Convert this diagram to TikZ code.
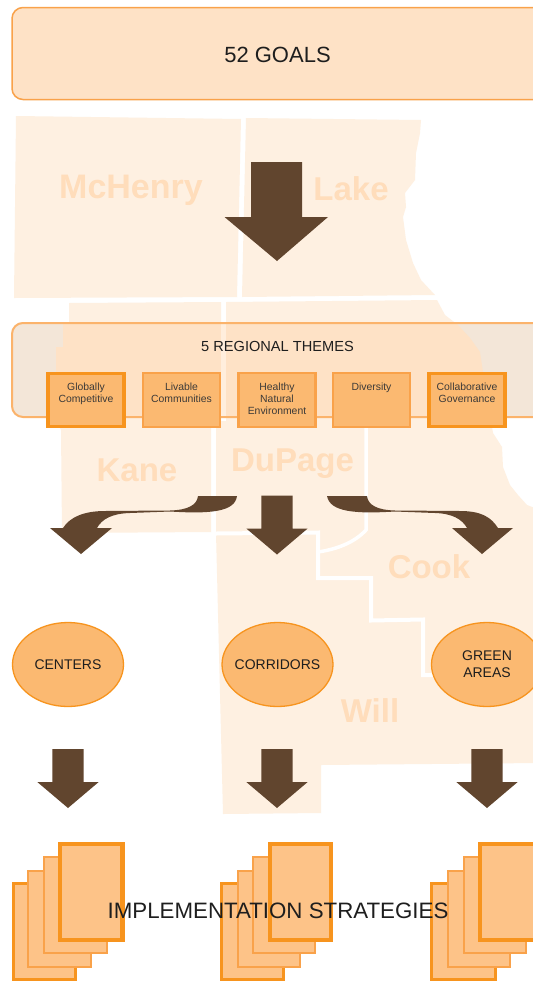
\documentclass[tikz,border=0pt]{standalone}
\usepackage{fontspec}
\setmainfont{Liberation Sans}
\usetikzlibrary{shapes.geometric}
\definecolor{landc}{HTML}{FEF0E1}
\definecolor{landtint}{HTML}{FEE2C6}
\definecolor{gaptint}{HTML}{FFEEDD}
\definecolor{bandc}{HTML}{F3E6D8}
\definecolor{peach}{HTML}{FEE2C6}
\definecolor{orangeL}{HTML}{F9A24A}
\definecolor{orangeD}{HTML}{F7941E}
\definecolor{bandedge}{HTML}{FBB36B}
\definecolor{squarec}{HTML}{FBB971}
\definecolor{sheetc}{HTML}{FDC388}
\definecolor{brownc}{HTML}{61452E}
\definecolor{countyc}{HTML}{FFDDBB}
\definecolor{inkc}{HTML}{1E1E1E}
\definecolor{inksm}{HTML}{3C3A38}
\newcommand{\fs}[1]{\fontsize{#1}{#1}\selectfont}
\newcommand{\kanepoly}{(69,303) -- (221,302) -- (221,421) -- (211,421) -- (211,532) -- (62,533) -- (61,430) -- (56,420) -- (56,347) -- (63,347) -- (63,323) -- (69,323) -- cycle}
\newcommand{\southpoly}{(226,302) -- (437,300) -- (445,315) -- (458,325) -- (470,338) -- (480,352) -- (483,372) -- (493,433) -- (502,447) -- (503,467) -- (510,485) -- (518,495) -- (527,505) -- (540,510) -- (540,763) -- (321,765) -- (321,813) -- (223,814) -- (216,533) -- (216,421) -- (226,421) -- cycle}
\newcommand{\downblock}[3]{%
  \fill[arrowfill] (#1-15.7,#2) -- (#1+15.7,#2) -- (#1+15.7,#2+33) -- (#1+30.7,#2+33) -- (#1,#2+59) -- (#1-30.7,#2+33) -- (#1-15.7,#2+33) -- cycle;}
\tikzset{
  arrowfill/.style={fill=brownc},
  landfill/.style={fill=landc},
  county/.style={font=\bfseries\fs{33}, text=countyc, anchor=base, inner sep=0pt},
  topband/.style={draw=orangeL, line width=1.5pt, fill=peach, rounded corners=11pt, minimum width=560pt, minimum height=92pt, inner sep=0pt},
  themeband/.style={draw=bandedge, line width=2pt, rounded corners=11pt, minimum width=560pt, minimum height=94pt, inner sep=0pt},
  themesq/.style={fill=squarec, draw=orangeL, line width=2.5pt, minimum width=77pt, minimum height=54pt, inner sep=0pt},
  themesqb/.style={themesq, draw=orangeD, line width=3.5pt, minimum width=76pt, minimum height=53pt},
  themetxt/.style={font=\fontsize{10.4}{12.3}\selectfont, text=inksm, align=center, anchor=north, inner sep=0pt},
  ell/.style={ellipse, fill=squarec, draw=orangeD, line width=1.3pt, minimum width=111pt, minimum height=84pt, inner sep=0pt},
  elltxt/.style={font=\fontsize{14}{17}\selectfont, text=inkc, align=center, inner sep=0pt},
  sheetback/.style={fill=sheetc, draw=orangeD, line width=3pt},
  sheetmid/.style={fill=sheetc, draw=orangeL, line width=2pt},
  sheetfront/.style={fill=sheetc, draw=orangeD, line width=4.5pt},
}
\begin{document}
\begin{tikzpicture}[x=1pt,y=-1pt]
\useasboundingbox (0,0) rectangle (533,983);
\fill[white] (0,0) rectangle (533,983);
\clip (0,0) rectangle (533,983);

% map
\fill[landfill] (16,116) -- (241,119) -- (237,297) -- (14,298) -- cycle;
\fill[landfill] (246,118) -- (421,120) -- (420,133) -- (416,153) -- (415,180) -- (405,193) -- (406,207) -- (403,217) -- (406,240) -- (413,263) -- (421,280) -- (435,295) -- (242,297) -- cycle;
\fill[landfill] \kanepoly;
\fill[landfill] \southpoly;
\draw[white, line width=4pt] (216,533.5) -- (318,532.5) -- (318,578) -- (371,578) -- (371,620.5) -- (423,619.5) -- (423,675) -- (436,675);
\draw[white, line width=3.5pt] (366,425) -- (366,530) .. controls (355,542) and (338,549) .. (318,552);

% band of the five themes, map seen through it
\begin{scope}
  \clip[rounded corners=11pt] (12,322) rectangle (560,417);
  \fill[bandc] (0,310) rectangle (540,430);
  \fill[landtint] \kanepoly;
  \fill[landtint] \southpoly;
  \draw[gaptint, line width=5pt] (223.5,300) -- (223.5,421);
\end{scope}
\node[themeband] (band) at (292,370) {};
\node[font=\fs{14.6}, text=inkc, inner sep=0pt] (bandtitle) at (277.5,346) {5 REGIONAL THEMES};

% counties
\node[county, font=\bfseries\fs{34}] (mchenry) at (131,198) {McHenry};
\node[county] (lake) at (351,200.5) {Lake};
\node[county] (kane) at (137,481) {Kane};
\node[county] (dupage) at (292.5,471.5) {DuPage};
\node[county] (cook) at (429,578) {Cook};
\node[county] (will) at (370,722) {Will};

% top box
\node[topband] (goals) at (292,53.5) {};
\node[font=\fs{22}, text=inkc, inner sep=0pt] (goalstxt) at (277.5,55) {52 GOALS};

% top arrow
\fill[arrowfill] (251,162) -- (302,162) -- (302,217) -- (328,217) -- (277,261) -- (224.5,217) -- (251,217) -- cycle;

% theme squares
\node[themesqb] (t1) at (86,400) {};
\node[themesq]  (t2) at (181.5,400) {};
\node[themesq]  (t3) at (277,400) {};
\node[themesq]  (t4) at (371.5,400) {};
\node[themesqb] (t5) at (467,400) {};
\begin{scope}[every node/.append style={themetxt}]
\node (t1txt) at (86,382.5) {Globally\\Competitive};
\node (t2txt) at (181.5,382.5) {Livable\\Communities};
\node (t3txt) at (277,382.5) {Healthy\\Natural\\Environment};
\node (t4txt) at (371.5,382.5) {Diversity};
\node (t5txt) at (467,382.5) {Collaborative\\Governance};
\end{scope}

% arrows from the themes
\downblock{277}{495.5}{}
\fill[arrowfill] (237,496) -- (198,496) .. controls (197,505) and (188,510) .. (170,510.5) -- (105,511) .. controls (84,511) and (70,517) .. (63,528) -- (50,528) -- (81,554) -- (112,528) -- (97,528) .. controls (102,519) and (112,513.5) .. (130,513) -- (170,511.5) .. controls (210,514) and (235,512) .. (237,496) -- cycle;
\fill[arrowfill] (327,496) -- (367,496) .. controls (368,505) and (377,510) .. (395,510.5) -- (460,511) .. controls (481,511) and (491,517) .. (498,528) -- (513,528) -- (482,554) -- (452,528) -- (467,528) .. controls (462,519) and (452,513.5) .. (435,513) -- (395,511.5) .. controls (355,514) and (330,512) .. (327,496) -- cycle;

% ellipses
\node[ell] (centers) at (68,664.5) {};
\node[elltxt] (centerstxt) at (68,664.5) {CENTERS};
\node[ell] (corridors) at (277.5,664.5) {};
\node[elltxt] (corridorstxt) at (277.5,664.5) {CORRIDORS};
\node[ell] (green) at (487,664.5) {};
\node[elltxt] (greentxt) at (487,664.5) {GREEN\\AREAS};

% lower arrows
\downblock{68}{749}{}
\downblock{277}{749}{}
\downblock{487}{749}{}

% stacks of sheets
\draw[sheetback] (13.5,883.5) rectangle (75,979.5);
\draw[sheetmid] (28,871) rectangle (91,967);
\draw[sheetmid] (44,857) rectangle (107,953);
\draw[sheetfront] (60,844) rectangle (122.5,940);

\draw[sheetback] (221.5,883.5) rectangle (283.5,979.5);
\draw[sheetmid] (238,871) rectangle (300,967);
\draw[sheetmid] (253,857) rectangle (315,953);
\draw[sheetfront] (270,844) rectangle (331,940);

\draw[sheetback] (431.5,883.5) rectangle (495.5,979.5);
\draw[sheetmid] (448,871) rectangle (510,967);
\draw[sheetmid] (464,857) rectangle (526,953);
\draw[sheetfront] (480,844) rectangle (545,940);

\node[font=\fs{22.3}, text=inkc, inner sep=0pt] (impl) at (278,910.5) {IMPLEMENTATION STRATEGIES};
\end{tikzpicture}
\end{document}
